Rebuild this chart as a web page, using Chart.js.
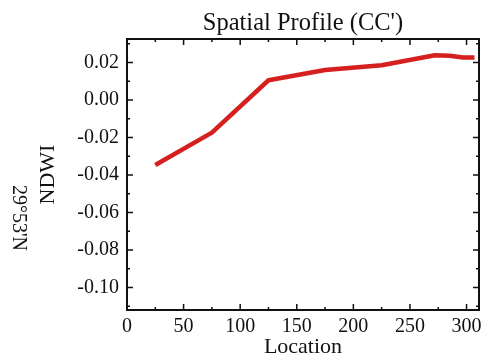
<!DOCTYPE html>
<html>
<head>
<meta charset="utf-8">
<title>Spatial Profile (CC')</title>
<script src="https://cdn.jsdelivr.net/npm/chart.js@4"></script>
<style>
  html, body { margin: 0; padding: 0; background: #fff; }
  canvas { display: block; }
</style>
</head>
<body>
<canvas id="chart" width="483" height="358"></canvas>
<script>
// profile samples along the CC' line
const location_ = [25, 75, 125, 175, 225, 272, 285, 297, 307];
const ndwi = [-0.0347, -0.0174, 0.0105, 0.0160, 0.0185, 0.0238, 0.0236, 0.0226, 0.0226];

// axis ticks (labelled + unlabelled minor ones)
const xLabelTicks = [0, 50, 100, 150, 200, 250, 300];
const xMinorTicks = [25, 75, 125, 175, 225, 275];
const yLabelTicks = [-0.10, -0.08, -0.06, -0.04, -0.02, 0.00, 0.02];
const yMinorTicks = [-0.11, -0.09, -0.07, -0.05, -0.03, -0.01, 0.01, 0.03];

const xMin = 0, xMax = 311;
const yMin = -0.112, yMax = 0.0325;

const serif = "'Liberation Serif', 'Times New Roman', serif";
const ink = '#111';

// ticks pointing into the plot on all four sides
const inwardTicks = {
  id: 'inwardTicks',
  afterDatasetsDraw(chart) {
    const {ctx, chartArea: a, scales} = chart;
    const x = scales.x, y = scales.y;
    ctx.save();
    ctx.strokeStyle = ink;
    ctx.lineWidth = 1.5;
    ctx.beginPath();
    const xt = xLabelTicks.map(v => [v, 6]).concat(xMinorTicks.map(v => [v, 3]));
    xt.forEach(([v, len]) => {
      const px = x.getPixelForValue(v);
      ctx.moveTo(px, a.bottom); ctx.lineTo(px, a.bottom - len);
      ctx.moveTo(px, a.top); ctx.lineTo(px, a.top + len);
    });
    const yt = yLabelTicks.map(v => [v, 6]).concat(yMinorTicks.map(v => [v, 3]));
    yt.forEach(([v, len]) => {
      const py = y.getPixelForValue(v);
      ctx.moveTo(a.left, py); ctx.lineTo(a.left + len, py);
      ctx.moveTo(a.right, py); ctx.lineTo(a.right - len, py);
    });
    ctx.stroke();
    ctx.restore();
  }
};

// second left-hand label, turned the other way
const latLabel = {
  id: 'latLabel',
  afterDraw(chart) {
    const ctx = chart.ctx;
    ctx.save();
    ctx.translate(18, 218);
    ctx.rotate(Math.PI / 2);
    ctx.font = '20px ' + serif;
    ctx.fillStyle = ink;
    ctx.textAlign = 'center';
    ctx.textBaseline = 'middle';
    ctx.fillText("29°53'N", 0, 0);
    ctx.restore();
  }
};

const frameAxis = {
  grid: { display: true, drawOnChartArea: false, drawTicks: false },
  border: { display: true, color: ink, width: 2 }
};

// keep edge labels from pushing the plot inwards
const noOverhang = s => { s.paddingLeft = s.paddingRight = s.paddingTop = s.paddingBottom = 0; };

new Chart(document.getElementById('chart'), {
  type: 'line',
  data: {
    datasets: [{
      data: location_.map((v, i) => ({ x: v, y: ndwi[i] })),
      borderColor: '#d61f1f',
      borderWidth: 4.5,
      pointRadius: 0,
      tension: 0,
      borderJoinStyle: 'round',
      borderCapStyle: 'butt'
    }]
  },
  options: {
    responsive: false,
    animation: false,
    devicePixelRatio: 1,
    layout: { padding: 0 },
    plugins: { legend: { display: false }, tooltip: { enabled: false } },
    scales: {
      x: {
        ...frameAxis,
        type: 'linear', position: 'bottom', min: xMin, max: xMax,
        afterBuildTicks: s => { s.ticks = xLabelTicks.map(v => ({ value: v })); },
        afterFit: s => { s.height = 48; noOverhang(s); },
        ticks: { color: ink, font: { family: serif, size: 20 }, padding: 5, maxRotation: 0, autoSkip: false },
        title: { display: true, text: 'Location', color: ink, font: { family: serif, size: 22, lineHeight: 1 }, padding: 0 }
      },
      xTop: {
        ...frameAxis,
        type: 'linear', position: 'top', min: xMin, max: xMax,
        ticks: { display: false },
        afterFit: s => { s.height = 39; noOverhang(s); },
        title: { display: true, text: "Spatial Profile (CC')", color: ink, font: { family: serif, size: 24.5, lineHeight: 1 }, padding: { top: 11, bottom: 0 } }
      },
      y: {
        ...frameAxis,
        type: 'linear', position: 'left', min: yMin, max: yMax,
        afterBuildTicks: s => { s.ticks = yLabelTicks.map(v => ({ value: v })); },
        afterFit: s => { s.width = 127; noOverhang(s); },
        ticks: { color: ink, font: { family: serif, size: 20 }, padding: 8, autoSkip: false, callback: v => v.toFixed(2) },
        title: { display: true, text: 'NDWI', color: ink, font: { family: serif, size: 22, lineHeight: 1 }, padding: { top: 37, bottom: 0 } }
      },
      yRight: {
        ...frameAxis,
        type: 'linear', position: 'right', min: yMin, max: yMax,
        ticks: { display: false },
        afterFit: s => { s.width = 4; noOverhang(s); }
      }
    }
  },
  plugins: [inwardTicks, latLabel]
});
</script>
</body>
</html>
